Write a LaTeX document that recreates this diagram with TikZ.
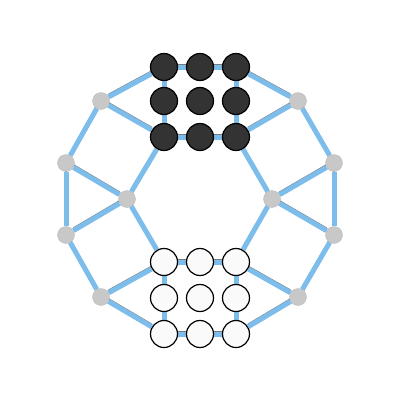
\documentclass[tikz,border=0pt]{standalone}
\usetikzlibrary{backgrounds}
\definecolor{edgeblue}{HTML}{7DBDEB}
\definecolor{edgegray}{HTML}{7A7A7A}
\definecolor{nodegray}{HTML}{C8C8C8}
\definecolor{darkfill}{HTML}{333333}
\definecolor{lightfill}{HTML}{FAFAFA}
\tikzset{
  graynode/.style={circle,fill=nodegray,draw=nodegray!90!black,line width=0.3pt,minimum size=17pt,inner sep=0pt},
  darknode/.style={circle,fill=darkfill,draw=black,line width=1.2pt,minimum size=27pt,inner sep=0pt},
  lightnode/.style={circle,fill=lightfill,draw=black,line width=1.2pt,minimum size=27pt,inner sep=0pt},
  grayedge/.style={draw=edgegray,line width=1.5pt,transform canvas={yshift=2.5pt}},
  blueedge/.style={draw=edgeblue,line width=5pt},
}
\begin{document}
\begin{tikzpicture}[x=1pt,y=-1pt]
\useasboundingbox (0,0) rectangle (402,402);
% gray outer nodes
\node[graynode] (ul) at (101,101) {};
\node[graynode] (ur) at (298,101) {};
\node[graynode] (lu) at (66,163) {};
\node[graynode] (ru) at (334,163) {};
\node[graynode] (ll) at (66,235) {};
\node[graynode] (rl) at (334,235) {};
\node[graynode] (dl) at (101,297) {};
\node[graynode] (dr) at (298,297) {};
\node[graynode] (ml) at (127,199) {};
\node[graynode] (mr) at (272,199) {};
% grids
\foreach \c/\x in {1/164,2/200,3/236}{
  \foreach \r/\y in {1/67,2/101,3/137}{
    \node[darknode] (t\r\c) at (\x,\y) {};
  }
  \foreach \r/\y in {1/262,2/298,3/334}{
    \node[lightnode] (b\r\c) at (\x,\y) {};
  }
}
\begin{scope}[on background layer]
\foreach \a/\b in {ul/t11,ul/t31,ul/lu,lu/ll,lu/ml,ll/ml,ll/dl,dl/b11,dl/b31,ml/t31,ml/b11,
  ur/t13,ur/t33,ur/ru,ru/rl,ru/mr,rl/mr,rl/dr,dr/b13,dr/b33,mr/t33,mr/b13,
  t11/t12,t12/t13,t31/t32,t32/t33,t11/t21,t21/t31,t13/t23,t23/t33,
  b11/b12,b12/b13,b31/b32,b32/b33,b11/b21,b21/b31,b13/b23,b23/b33}{
  \path[grayedge] (\a) -- (\b);
  \path[blueedge] (\a) -- (\b);
}
\end{scope}
\end{tikzpicture}
\end{document}
